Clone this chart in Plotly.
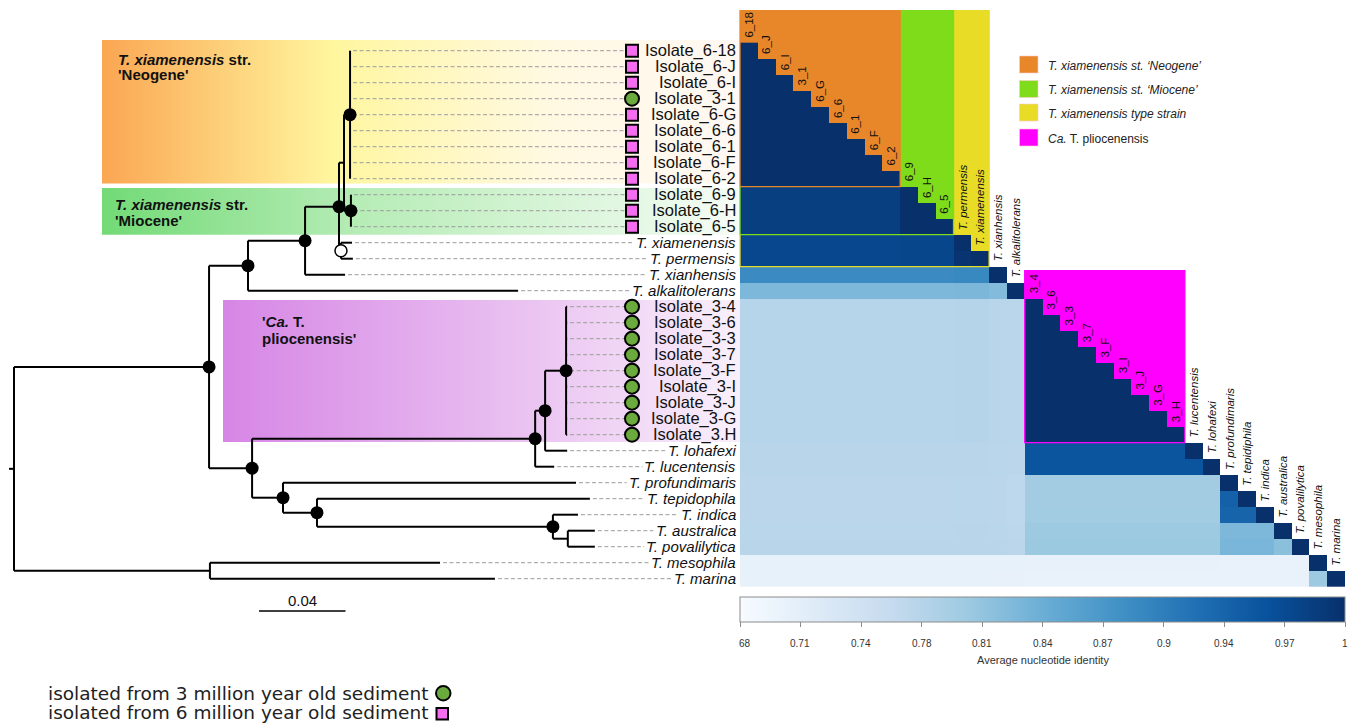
import plotly.graph_objects as go

W, H = 1357, 724

# ---------------- data ----------------
# Maximum-likelihood tree, tips listed top to bottom; '*' = supported node, 'o' = weakly supported
TREE_NEWICK = (
    "(((((((Isolate_6-18:0,Isolate_6-J:0,Isolate_6-I:0,Isolate_3-1:0,"
    "Isolate_6-G:0,Isolate_6-6:0,Isolate_6-1:0,Isolate_6-F:0,Isolate_6-2:0)*:0.0028,"
    "(Isolate_6-9:0,Isolate_6-H:0,Isolate_6-5:0)*:0.0032):0.0023,"
    "(T. xiamenensis:0.0051,T. permensis:0.0055)o:0.0009)*:0.0157,"
    "T. xianhensis:0.0185)*:0.0264,"
    "T. alkalitolerans:0.1249)*:0.0180,"
    "((((Isolate_3-4:0.0005,Isolate_3-6:0.0005,Isolate_3-3:0.0005,Isolate_3-7:0.0005,"
    "Isolate_3-F:0.0005,Isolate_3-I:0.0005,Isolate_3-J:0.0005,Isolate_3-G:0.0005,"
    "Isolate_3.H:0.0005)*:0.0097,T. lohafexi:0.0102)*:0.0046,"
    "T. lucentensis:0.0088)*:0.1309,"
    "(T. profundimaris:0.1355,(T. tepidophila:0.1262,(T. indica:0.0116,"
    "(T. australica:0.0125,T. povalilytica:0.0125):0.0069)*:0.1091)*:0.0157)*:0.0143"
    ")*:0.0199)*:0.0902,"
    "(T. mesophila:0.1064,T. marina:0.1318):0.0906):0.0023;"
)
SCALE_BAR = 0.04

# ANI heatmap columns (same order as the tree rows)
hm_col_labels = ["6_18", "6_J", "6_I", "3_1", "6_G", "6_6", "6_1", "6_F", "6_2",
                 "6_9", "6_H", "6_5", "T. permensis", "T. xiamenensis", "T. xianhensis",
                 "T. alkalitolerans", "3_4", "3_6", "3_3", "3_7", "3_F", "3_I", "3_J",
                 "3_G", "3_H", "T. lucentensis", "T. lohafexi", "T. profundimaris",
                 "T. tepidiphila", "T. indica", "T. australica", "T. povalilytica",
                 "T. mesophila", "T. marina"]
hm_group = [0, 0, 0, 0, 0, 0, 0, 0, 0, 1, 1, 1, 2, 2, 3, 4,
            5, 5, 5, 5, 5, 5, 5, 5, 5, 6, 6, 7, 8, 9, 10, 11, 12, 13]
# average nucleotide identity between groups (lower triangle, row group vs column group)
group_ani = [
    [0.999],
    [0.982, 0.999],
    [0.972, 0.973, 0.995],
    [0.889, 0.889, 0.891, 1.0],
    [0.826, 0.826, 0.827, 0.822, 1.0],
    [0.775, 0.775, 0.776, 0.774, 0.772, 0.999],
    [0.773, 0.773, 0.774, 0.772, 0.771, 0.955, 0.955],
    [0.771, 0.771, 0.772, 0.771, 0.769, 0.795, 0.795, 1.0],
    [0.771, 0.771, 0.772, 0.771, 0.769, 0.795, 0.795, 0.940, 1.0],
    [0.771, 0.771, 0.772, 0.771, 0.769, 0.796, 0.796, 0.936, 0.936, 1.0],
    [0.772, 0.772, 0.773, 0.772, 0.770, 0.800, 0.800, 0.826, 0.826, 0.826, 1.0],
    [0.773, 0.773, 0.774, 0.773, 0.771, 0.802, 0.802, 0.828, 0.828, 0.828, 0.815, 1.0],
    [0.706, 0.706, 0.706, 0.705, 0.705, 0.704, 0.704, 0.703, 0.703, 0.703, 0.703, 0.703, 1.0],
    [0.705, 0.705, 0.705, 0.704, 0.704, 0.703, 0.703, 0.702, 0.702, 0.702, 0.702, 0.702, 0.800, 1.0],
]
ani_min, ani_max = 0.68, 1.0
cbar_tickvals = [0.68, 0.712, 0.744, 0.776, 0.808, 0.84, 0.872, 0.904, 0.936, 0.968, 1.0]
cbar_ticktext = ["68", "0.71", "0.74", "0.78", "0.81", "0.84", "0.87", "0.9", "0.94", "0.97", "1"]

# species groups highlighted above the diagonal: (legend text, colour, first col, last col)
groups_hl = [
    ("<i>T. xiamenensis st. \u2018Neogene\u2019</i>", "#E8862A", 1, 9),
    ("<i>T. xiamenensis st. \u2018Miocene\u2019</i>", "#7EDC1B", 1, 12),
    ("<i>T. xiamenensis type strain</i>", "#E8DC27", 1, 14),
    ("<i>Ca.</i> T. pliocenensis", "#FF00FF", 17, 25),
]

BLUES = [[0.0, "rgb(247,251,255)"], [0.125, "rgb(222,235,247)"], [0.25, "rgb(198,219,239)"],
         [0.375, "rgb(158,202,225)"], [0.5, "rgb(107,174,214)"], [0.625, "rgb(66,146,198)"],
         [0.75, "rgb(33,113,181)"], [0.875, "rgb(8,81,156)"], [1.0, "rgb(8,48,107)"]]

FONT = "Liberation Sans, Arial, Helvetica, sans-serif"
# Arial advance widths (1/1000 em) used to stop leader lines at the label start
ARIAL_W = {"a": 556, "b": 556, "c": 500, "d": 556, "e": 556, "f": 278, "g": 556, "h": 556,
           "i": 222, "j": 222, "k": 500, "l": 222, "m": 833, "n": 556, "o": 556, "p": 556,
           "q": 556, "r": 333, "s": 500, "t": 278, "u": 556, "v": 500, "w": 722, "x": 500,
           "y": 500, "z": 500, "T": 611, ".": 278, " ": 278}

# ---------------- geometry (pixels) ----------------
TREE_X0, PX_PER_UNIT = 14.0, 2162.5
ROW_Y0, ROW_H = 34.7, 16.0
HM_X0, HM_W = 740.0, 605.0
NCOL = len(hm_col_labels)
COL_W = HM_W / NCOL
LABEL_RIGHT = 738.0
MARKER_PX = 632.0
CBAR_TOP, CBAR_THICK = 597.0, 25.0
SPECIES_FS = 15


def tx(px):
    return (px - TREE_X0) / PX_PER_UNIT


def ry(py):
    return (py - ROW_Y0) / ROW_H


def hx(px):
    return (px - HM_X0) / COL_W + 0.5


def PX(x):
    return x / W


def PY(y):
    return 1 - y / H


def text_width(s, size):
    return sum(ARIAL_W.get(ch, 556) for ch in s) / 1000.0 * size


# ---------------- tree parsing / layout ----------------
def parse_newick(s):
    s = s.strip()
    pos = 0

    def node():
        nonlocal pos
        n = {"children": [], "name": "", "len": 0.0}
        if s[pos] == "(":
            pos += 1
            while True:
                n["children"].append(node())
                if s[pos] == ",":
                    pos += 1
                    continue
                if s[pos] == ")":
                    pos += 1
                    break
        start = pos
        while pos < len(s) and s[pos] not in ",():;":
            pos += 1
        n["name"] = s[start:pos].strip()
        if pos < len(s) and s[pos] == ":":
            pos += 1
            start = pos
            while s[pos] not in ",();":
                pos += 1
            n["len"] = float(s[start:pos])
        return n

    return node()


root = parse_newick(TREE_NEWICK)
tips = []


def place(n, x):
    n["x"] = x
    if n["children"]:
        for c in n["children"]:
            place(c, x + c["len"])
        n["y"] = (n["children"][0]["y"] + n["children"][-1]["y"]) / 2
    else:
        tips.append(n)
        n["y"] = float(len(tips))


place(root, 0.0)

seg_x, seg_y, sup_x, sup_y, weak_x, weak_y = [], [], [], [], [], []


def collect(n):
    if not n["children"]:
        return
    ch = n["children"]
    seg_x.extend([n["x"], n["x"], None])
    seg_y.extend([ch[0]["y"], ch[-1]["y"], None])
    for c in ch:
        if c["x"] > n["x"]:
            seg_x.extend([n["x"], c["x"], None])
            seg_y.extend([c["y"], c["y"], None])
        collect(c)
    if n["name"] == "*":
        sup_x.append(n["x"]); sup_y.append(n["y"])
    elif n["name"] == "o":
        weak_x.append(n["x"]); weak_y.append(n["y"])


collect(root)
# root stem
seg_x.extend([-root["len"], 0.0, None])
seg_y.extend([root["y"], root["y"], None])

# ---------------- figure ----------------
fig = go.Figure()

# gradient clade boxes behind the tree
clade_boxes = [
    (102, 40, 740, 183.5, [[0, "rgb(251,166,82)"], [0.36, "rgb(255,246,158)"],
                           [0.7, "rgb(255,249,226)"], [1, "rgb(255,248,244)"]]),
    (102, 188, 740, 234.7, [[0, "rgb(114,218,118)"], [0.4, "rgb(182,236,182)"],
                            [1, "rgb(246,252,246)"]]),
    (223, 300, 740, 442, [[0, "rgb(214,134,229)"], [0.5, "rgb(231,185,239)"],
                          [1, "rgb(249,240,251)"]]),
]
for x0, y0, x1, y1, cs in clade_boxes:
    fig.add_trace(go.Scatter(
        x=[tx(x0), tx(x1), tx(x1), tx(x0), tx(x0)],
        y=[ry(y0), ry(y0), ry(y1), ry(y1), ry(y0)],
        mode="none", fill="toself",
        fillgradient=dict(type="horizontal", colorscale=cs),
        hoverinfo="skip", showlegend=False))

# ANI heatmap (lower triangle)
z = []
for i in range(NCOL):
    row = []
    for j in range(NCOL):
        if i == j:
            row.append(1.0)
        elif j < i:
            row.append(group_ani[hm_group[i]][hm_group[j]])
        else:
            row.append(None)
    z.append(row)

fig.add_trace(go.Heatmap(
    x=list(range(1, NCOL + 1)), y=list(range(1, NCOL + 1)), z=z,
    xaxis="x2", yaxis="y", colorscale=BLUES, zmin=ani_min, zmax=ani_max,
    hoverinfo="skip",
    colorbar=dict(
        orientation="h", x=PX(HM_X0 + HM_W / 2), xanchor="center",
        y=PY(CBAR_TOP), yanchor="top", len=HM_W, lenmode="pixels",
        thickness=CBAR_THICK, thicknessmode="pixels", xpad=0, ypad=0,
        outlinecolor="#8c8c8c", outlinewidth=1,
        tickmode="array", tickvals=cbar_tickvals, ticktext=cbar_ticktext,
        ticks="outside", ticklen=5, tickcolor="#8c8c8c", showticklabels=False,
    ),
))

# colour-bar tick labels and title
for v, t in zip(cbar_tickvals, cbar_ticktext):
    xp = HM_X0 + (v - ani_min) / (ani_max - ani_min) * HM_W
    fig.add_annotation(dict(x=PX(xp + (5 if t == "68" else 0)), y=PY(643), xref="paper",
                            yref="paper", text=t, showarrow=False, xanchor="center",
                            yanchor="middle", font=dict(family=FONT, size=10, color="#333")))
fig.add_annotation(dict(x=PX(HM_X0 + HM_W / 2), y=PY(660), xref="paper", yref="paper",
                        text="Average nucleotide identity", showarrow=False,
                        xanchor="center", yanchor="middle",
                        font=dict(family=FONT, size=11, color="#333")))

# dashed leaders from tips to labels
dx, dy = [], []
for t in tips:
    if t["name"].startswith("Isolate"):
        end = tx(MARKER_PX - 7)
    else:
        end = tx(LABEL_RIGHT - text_width(t["name"], SPECIES_FS) - 3)
    dx.extend([t["x"] + tx(TREE_X0 + 3), end, None])
    dy.extend([t["y"], t["y"], None])
fig.add_trace(go.Scatter(x=dx, y=dy, mode="lines",
                         line=dict(color="#9c9c9c", width=1, dash="4px,2.5px"),
                         hoverinfo="skip", showlegend=False))

# tree branches
fig.add_trace(go.Scatter(x=seg_x, y=seg_y, mode="lines",
                         line=dict(color="black", width=2),
                         hoverinfo="skip", showlegend=False))
fig.add_trace(go.Scatter(x=sup_x, y=sup_y, mode="markers",
                         marker=dict(size=13, color="black"),
                         hoverinfo="skip", showlegend=False))
fig.add_trace(go.Scatter(x=weak_x, y=weak_y, mode="markers",
                         marker=dict(size=12, color="white", line=dict(color="black", width=1.5)),
                         hoverinfo="skip", showlegend=False))

# sediment-age markers
sq_y = [t["y"] for t in tips if t["name"].startswith("Isolate_6")]
ci_y = [t["y"] for t in tips if t["name"].startswith("Isolate_3")]
fig.add_trace(go.Scatter(x=[tx(MARKER_PX)] * len(sq_y), y=sq_y, mode="markers",
                         marker=dict(symbol="square", size=12, color="#F56CF0",
                                     line=dict(color="black", width=2)),
                         hoverinfo="skip", showlegend=False))
fig.add_trace(go.Scatter(x=[tx(MARKER_PX)] * len(ci_y), y=ci_y, mode="markers",
                         marker=dict(symbol="circle", size=14, color="#6BAA3C",
                                     line=dict(color="black", width=2)),
                         hoverinfo="skip", showlegend=False))

shapes = []
annotations = []

# highlighted groups above the diagonal (largest first so nested ones sit on top)
MAGENTA_TOP = 270.7
for text, col, c0, c1 in sorted(groups_hl[:3], key=lambda g: -g[3]):
    shapes.append(dict(type="rect", xref="x2", yref="y", x0=c0 - 0.5, x1=c1 + 0.5,
                       y0=ry(10), y1=c1 + 0.5, fillcolor=col, line=dict(width=0),
                       layer="below"))
for text, col, c0, c1 in groups_hl[3:]:
    shapes.append(dict(type="rect", xref="x2", yref="y", x0=c0 - 0.5, x1=c1 + 0.5,
                       y0=ry(MAGENTA_TOP), y1=c1 + 0.5, fillcolor=col, line=dict(width=0),
                       layer="below"))
# outlines drawn over the heatmap
start_top = ry(10)
for text, col, c0, c1 in groups_hl[:3]:
    shapes.append(dict(type="path", xref="x2", yref="y",
                       path=f"M {c0 - 0.5} {start_top} L {c0 - 0.5} {c1 + 0.5} "
                            f"L {c1 + 0.5} {c1 + 0.5} L {c1 + 0.5} {ry(10)}",
                       line=dict(color=col, width=1.3), layer="above"))
    start_top = c1 + 0.5
for text, col, c0, c1 in groups_hl[3:]:
    shapes.append(dict(type="rect", xref="x2", yref="y", x0=c0 - 0.5, x1=c1 + 0.5,
                       y0=ry(MAGENTA_TOP), y1=c1 + 0.5,
                       line=dict(color=col, width=1.3), layer="above"))

# diagonal column labels
for j, lab in enumerate(hm_col_labels, start=1):
    txt = f"<i>{lab}</i>" if lab.startswith("T. ") else lab
    annotations.append(dict(x=j, y=j - 0.5, xref="x2", yref="y", text=txt,
                            textangle=-90, xanchor="center", yanchor="bottom", yshift=3,
                            showarrow=False, font=dict(family=FONT, size=11.5, color="#111")))

# tip labels
for t in tips:
    if t["name"].startswith("Isolate"):
        annotations.append(dict(x=PX(LABEL_RIGHT), y=t["y"], xref="paper", yref="y",
                                text=t["name"], xanchor="right", yanchor="middle",
                                showarrow=False, font=dict(family=FONT, size=16.5, color="#111")))
    else:
        annotations.append(dict(x=PX(LABEL_RIGHT), y=t["y"], xref="paper", yref="y",
                                text=f"<i>{t['name']}</i>", xanchor="right", yanchor="middle",
                                showarrow=False,
                                font=dict(family=FONT, size=SPECIES_FS, color="#111")))

# clade titles
clade_titles = [
    (116, 59, "<b><i>T. xiamenensis</i> str.</b>"),
    (116, 75, "<b>'Neogene'</b>"),
    (113, 204, "<b><i>T. xiamenensis</i> str.</b>"),
    (113, 220, "<b>'Miocene'</b>"),
    (260, 322, "<b>'<i>Ca.</i> T.</b>"),
    (260, 338, "<b>pliocenensis'</b>"),
]
for x, y, txt in clade_titles:
    annotations.append(dict(x=PX(x), y=PY(y), xref="paper", yref="paper", text=txt,
                            xanchor="left", yanchor="middle", showarrow=False,
                            font=dict(family=FONT, size=15, color="#111")))

# scale bar
sb_x0 = tx(259)
fig.add_trace(go.Scatter(x=[sb_x0, sb_x0 + SCALE_BAR], y=[ry(611), ry(611)], mode="lines",
                         line=dict(color="black", width=1.5), hoverinfo="skip",
                         showlegend=False))
annotations.append(dict(x=sb_x0 + SCALE_BAR / 2, y=ry(600), xref="x", yref="y", text="0.04",
                        showarrow=False, xanchor="center", yanchor="middle",
                        font=dict(family=FONT, size=15, color="#111")))

# group legend (top right)
legend_y = [64.5, 89, 112.5, 137.5]
for (text, col, c0, c1), yc in zip(groups_hl, legend_y):
    shapes.append(dict(type="rect", xref="paper", yref="paper",
                       x0=PX(1019.5), x1=PX(1038), y0=PY(yc - 8.5), y1=PY(yc + 8.5),
                       fillcolor=col, line=dict(color="rgba(255,200,200,0.6)", width=1)))
    annotations.append(dict(x=PX(1046), y=PY(yc + 1), xref="paper", yref="paper", text=text,
                            xanchor="left", yanchor="middle", showarrow=False,
                            font=dict(family=FONT, size=12, color="#222")))

# sediment legend (bottom left)
annotations.append(dict(x=PX(46), y=PY(693), xref="paper", yref="paper",
                        text="isolated from 3 million year old sediment",
                        xanchor="left", yanchor="middle", showarrow=False,
                        font=dict(family="DejaVu Sans, sans-serif", size=18.5, color="#222")))
annotations.append(dict(x=PX(46), y=PY(712), xref="paper", yref="paper",
                        text="isolated from 6 million year old sediment",
                        xanchor="left", yanchor="middle", showarrow=False,
                        font=dict(family="DejaVu Sans, sans-serif", size=18.5, color="#222")))
shapes.append(dict(type="circle", xref="paper", yref="paper",
                   x0=PX(436), x1=PX(450.5), y0=PY(686), y1=PY(700.5),
                   fillcolor="#6BAA3C", line=dict(color="black", width=2)))
shapes.append(dict(type="rect", xref="paper", yref="paper",
                   x0=PX(436.5), x1=PX(448), y0=PY(708), y1=PY(719.5),
                   fillcolor="#F56CF0", line=dict(color="black", width=2)))

fig.update_layout(
    width=W, height=H, margin=dict(l=0, r=0, t=0, b=0),
    paper_bgcolor="white", plot_bgcolor="white",
    xaxis=dict(range=[tx(0), tx(W)], visible=False, domain=[0, 1], fixedrange=True),
    xaxis2=dict(range=[hx(0), hx(W)], visible=False, overlaying="x", fixedrange=True),
    yaxis=dict(range=[ry(H), ry(0)], visible=False, fixedrange=True),
    shapes=shapes, showlegend=False,
)
for a in annotations:
    fig.add_annotation(a)

fig.write_html("out.html")
